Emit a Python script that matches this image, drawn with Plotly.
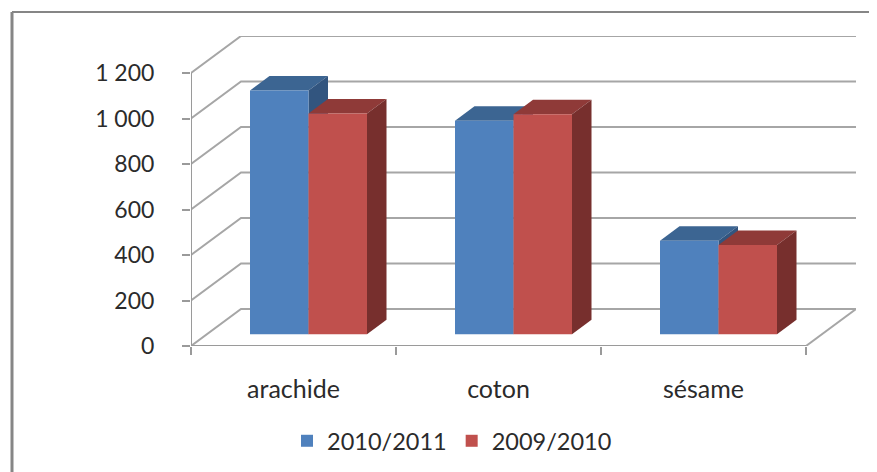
import plotly.graph_objects as go

categories = ["arachide", "coton", "sésame"]
series_names = ["2010/2011", "2009/2010"]
values_2010_2011 = [1072, 939, 411]
values_2009_2010 = [971, 967, 393]
y_ticks = [0, 200, 400, 600, 800, 1000, 1200]
y_tick_labels = ["0", "200", "400", "600", "800", "1\u00a0000", "1\u00a0200"]

PAGE = 8          # default page margin of the browser
W, H = 877 - PAGE, 472 - PAGE
L, R, T, B = 191 - PAGE, 856 - PAGE, 36 - PAGE, 346 - PAGE
FRAME = 12 - PAGE
PX_X = 205.0      # pixels per category
PX_Y = 0.2275     # pixels per unit


def ux(px):
    return px / PX_X


def uy(px):
    return px / PX_Y


WALL_DX, WALL_DY = ux(50), uy(37)
BAR_DX, BAR_DY = ux(19.5), uy(14.5)
BAR_BASE = uy(11.7)
BAR_W = ux(58.5)
BAR_START = ux(59)
GRID = "#A6A6A6"
AXIS = "#9A9A9A"
TXT = "#2b2b2b"
FONT = "Lato"

series = [
    (series_names[0], values_2010_2011, "#4F81BD", "#3C6592", "#32557F", 0),
    (series_names[1], values_2009_2010, "#C0504D", "#8F3A38", "#772F2D", 1),
]

fig = go.Figure()


def line(xs, ys, color, width=2):
    fig.add_trace(go.Scatter(x=xs, y=ys, mode="lines", showlegend=False, hoverinfo="skip",
                             cliponaxis=False, line=dict(color=color, width=width), zorder=0))


n = len(categories)
for v in y_ticks:
    line([0, WALL_DX, n + WALL_DX], [v, v + WALL_DY, v + WALL_DY], GRID)
line([n, n + WALL_DX], [0, WALL_DY], GRID)
line([0, 0], [0, y_ticks[-1]], AXIS)
line([0, n], [0, 0], AXIS)

for i in range(n):
    for name, vals, front, top, side, k in series:
        x0 = i + BAR_START + k * BAR_W
        x1 = x0 + BAR_W
        y0 = BAR_BASE
        y1 = BAR_BASE + vals[i]
        z = 2 + 2 * k
        fig.add_trace(go.Scatter(
            x=[x0, x1, x1 + BAR_DX, x0 + BAR_DX, x0],
            y=[y1, y1, y1 + BAR_DY, y1 + BAR_DY, y1],
            mode="lines", fill="toself", fillcolor=top, line=dict(width=0, color=top),
            showlegend=False, hoverinfo="skip", cliponaxis=False, zorder=z))
        fig.add_trace(go.Scatter(
            x=[x1, x1 + BAR_DX, x1 + BAR_DX, x1, x1],
            y=[y0, y0 + BAR_DY, y1 + BAR_DY, y1, y0],
            mode="lines", fill="toself", fillcolor=side, line=dict(width=0, color=side),
            showlegend=False, hoverinfo="skip", cliponaxis=False, zorder=z))

for name, vals, front, top, side, k in series:
    fig.add_trace(go.Bar(
        x=[i + BAR_START + (k + 0.5) * BAR_W for i in range(n)],
        y=vals, base=BAR_BASE, width=BAR_W, name=name,
        marker=dict(color=front, line=dict(width=0)), zorder=3 + 2 * k))

fig.update_layout(
    width=W, height=H,
    margin=dict(l=L, r=W - R, t=T, b=H - B, pad=0),
    paper_bgcolor="white", plot_bgcolor="white",
    font=dict(family=FONT, color=TXT, size=23),
    barmode="overlay",
    showlegend=True,
    legend=dict(orientation="h", xref="container", yref="container",
                x=(287 - PAGE) / W, xanchor="left",
                y=1 - (419 - PAGE) / H, yanchor="top",
                font=dict(family=FONT, size=23.5, color=TXT),
                bgcolor="rgba(0,0,0,0)", itemsizing="constant"),
    xaxis=dict(range=[0, (R - L) / PX_X], showgrid=False, zeroline=False, showline=False,
               tickmode="array", tickvals=[i + 0.5 for i in range(n)], ticktext=categories,
               ticks="", tickfont=dict(family=FONT, size=25, color=TXT), ticklabelstandoff=26,
               minor=dict(tickmode="array", tickvals=list(range(n + 1)), ticks="outside",
                          ticklen=8, tickwidth=2, tickcolor=AXIS, showgrid=False)),
    yaxis=dict(range=[0, (B - T) / PX_Y], showgrid=False, zeroline=False, showline=False,
               tickmode="array", tickvals=y_ticks, ticktext=y_tick_labels,
               ticks="outside", ticklen=8, tickwidth=2, tickcolor=AXIS,
               tickfont=dict(family=FONT, size=23, color=TXT), ticklabelstandoff=23),
    shapes=[dict(type="line", xref="paper", yref="paper",
                 x0=(FRAME - L) / (R - L), x1=(FRAME - L) / (R - L),
                 y0=(B - FRAME) / (B - T), y1=(B - H) / (B - T),
                 line=dict(color="#868686", width=3)),
            dict(type="line", xref="paper", yref="paper",
                 x0=(FRAME - L) / (R - L), x1=(W - L) / (R - L),
                 y0=(B - FRAME) / (B - T), y1=(B - FRAME) / (B - T),
                 line=dict(color="#868686", width=2))],
)

fig.write_html("out.html")
